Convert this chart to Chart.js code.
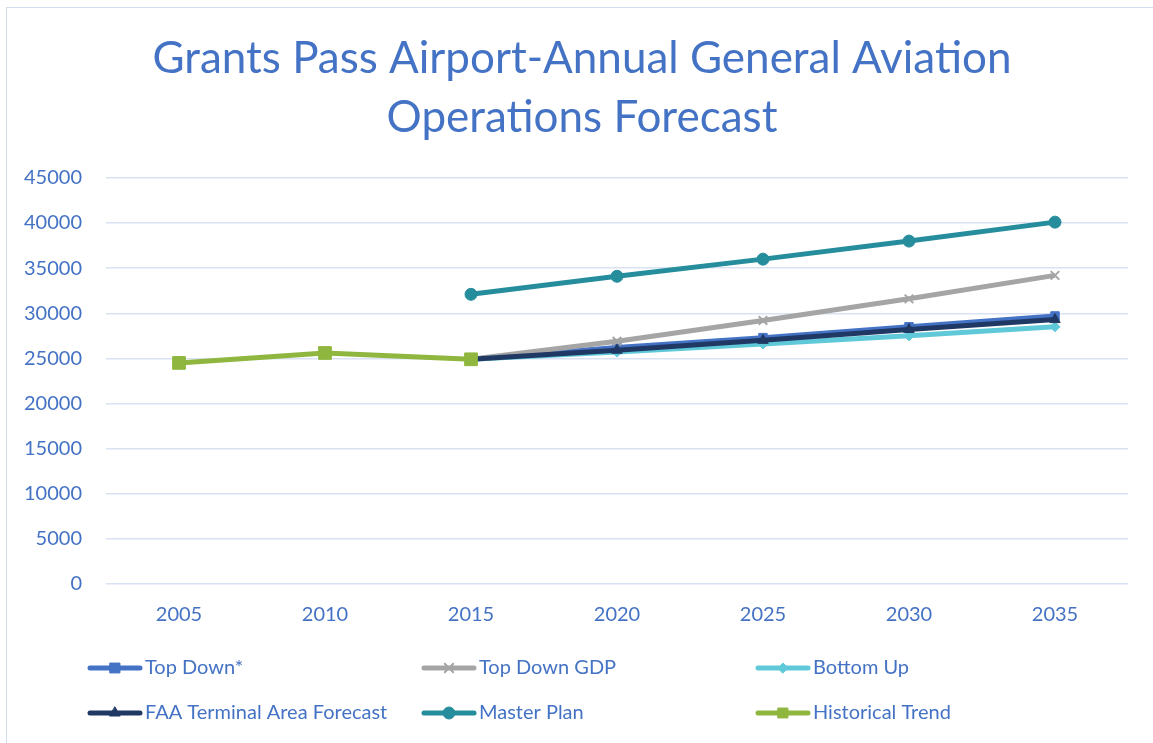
<!DOCTYPE html>
<html lang="en">
<head>
    <meta charset="UTF-8">
    <title>Grants Pass Airport forecast</title>
    <script src="https://cdn.jsdelivr.net/npm/chart.js"></script>
    <style>
        body {
            margin: 0;
            padding: 0;
            background: #fff;
        }
        #wrap {
            position: relative;
            width: 1153px;
            height: 743px;
            overflow: hidden;
        }
        /* thin frame round the chart, cut off right and bottom like the reference */
        #frame {
            position: absolute;
            left: 6px;
            top: 7px;
            width: 1200px;
            height: 800px;
            border: 1px solid #d3ddef;
        }
        #chart {
            position: absolute;
            left: 0;
            top: 0;
        }
    </style>
</head>
<body>
<div id="wrap">
    <div id="frame"></div>
    <canvas id="chart" width="1153" height="743"></canvas>
</div>
<script>
    const years = ['2005', '2010', '2015', '2020', '2025', '2030', '2035'];
    const yTicks = [0, 5000, 10000, 15000, 20000, 25000, 30000, 35000, 40000, 45000];

    const topDown      = [null, null, 24900, 26200, 27300, 28500, 29700];
    const topDownGdp   = [null, null, 24900, 26900, 29200, 31600, 34200];
    const bottomUp     = [null, null, 24900, 25700, 26600, 27500, 28500];
    const faaTaf       = [null, null, 24900, 25900, 27000, 28200, 29300];
    const masterPlan   = [null, null, 32100, 34100, 36000, 38000, 40100];
    const historical   = [24500, 25600, 24900, null, null, null, null];

    const blue = '#4472c4';
    const font = 'Lato';

    const seriesList = [
        { label: 'Top Down*', data: topDown, color: '#4472c4', style: 'rect', r: 6, order: 5 },
        { label: 'Top Down GDP', data: topDownGdp, color: '#a5a5a5', style: 'crossRot', r: 6, order: 4 },
        { label: 'Bottom Up', data: bottomUp, color: '#5fc9d9', style: 'rectRot', r: 5, order: 3 },
        { label: 'FAA Terminal Area Forecast', data: faaTaf, color: '#203864', style: 'triangle', r: 6, order: 2 },
        { label: 'Master Plan', data: masterPlan, color: '#258d9c', style: 'circle', r: 6, order: 1 },
        { label: 'Historical Trend', data: historical, color: '#8fb63e', style: 'rect', r: 9, order: 0 }
    ];

    // title in the reference sits a bit right of the canvas middle
    const shiftTitle = {
        id: 'shiftTitle',
        afterLayout(chart) {
            if (chart.titleBlock) chart.titleBlock.left += 36;
        }
    };

    // legend drawn in a 3 x 2 grid under the plot
    const gridLegend = {
        id: 'gridLegend',
        afterDraw(chart) {
            const ctx = chart.ctx;
            const colX = [88, 422, 756];
            const rowY = [668, 713];
            chart.data.datasets.forEach((ds, i) => {
                const x = colX[i % 3];
                const y = rowY[Math.floor(i / 3)];
                ctx.save();
                ctx.strokeStyle = ds.borderColor;
                ctx.fillStyle = ds.borderColor;
                ctx.lineWidth = 5;
                ctx.lineCap = 'round';
                ctx.beginPath();
                ctx.moveTo(x + 2, y);
                ctx.lineTo(x + 52, y);
                ctx.stroke();
                ctx.lineWidth = ds.pointStyle === 'crossRot' ? 2 : 1;
                Chart.helpers.drawPoint(ctx, {
                    pointStyle: ds.pointStyle,
                    radius: ds.pointStyle === 'rect' ? 7 : ds.pointRadius,
                    borderWidth: ds.pointStyle === 'crossRot' ? 2 : 1,
                    rotation: 0
                }, x + 27, y);
                ctx.fillStyle = blue;
                ctx.font = '20px ' + font;
                ctx.textBaseline = 'middle';
                ctx.fillText(ds.label, x + 57, y);
                ctx.restore();
            });
        }
    };

    new Chart(document.getElementById('chart').getContext('2d'), {
        type: 'line',
        data: {
            labels: years,
            datasets: seriesList.map(s => ({
                label: s.label,
                data: s.data,
                borderColor: s.color,
                backgroundColor: s.color,
                pointBackgroundColor: s.color,
                pointBorderColor: s.color,
                borderWidth: 5,
                pointStyle: s.style,
                pointRadius: s.r,
                pointBorderWidth: s.style === 'crossRot' ? 2 : 1,
                tension: 0,
                spanGaps: false,
                order: s.order
            }))
        },
        options: {
            responsive: false,
            animation: false,
            layout: { padding: { left: 0, right: 25, top: 0, bottom: 119 } },
            plugins: {
                legend: { display: false },
                tooltip: { enabled: false },
                title: {
                    display: true,
                    text: ['Grants Pass Airport-Annual General Aviation', 'Operations Forecast'],
                    color: blue,
                    font: { family: font, size: 44, weight: 'normal', lineHeight: 1.34 },
                    padding: { top: 29, bottom: 31 }
                }
            },
            scales: {
                x: {
                    offset: true,
                    grid: { display: false, drawTicks: false },
                    border: { display: false },
                    ticks: {
                        color: blue,
                        font: { family: font, size: 20 },
                        padding: 19,
                        maxRotation: 0
                    },
                    afterFit(axis) { axis.height = 40; }
                },
                y: {
                    min: 0,
                    max: 45000,
                    afterBuildTicks(axis) { axis.ticks = yTicks.map(v => ({ value: v })); },
                    grid: { color: '#d9e1f2', lineWidth: 1.5, drawTicks: false },
                    border: { display: false },
                    ticks: {
                        color: blue,
                        font: { family: font, size: 20 },
                        padding: 24,
                        callback: v => String(v)
                    },
                    afterFit(axis) { axis.width = 106; }
                }
            }
        },
        plugins: [shiftTitle, gridLegend]
    });
</script>
</body>
</html>
